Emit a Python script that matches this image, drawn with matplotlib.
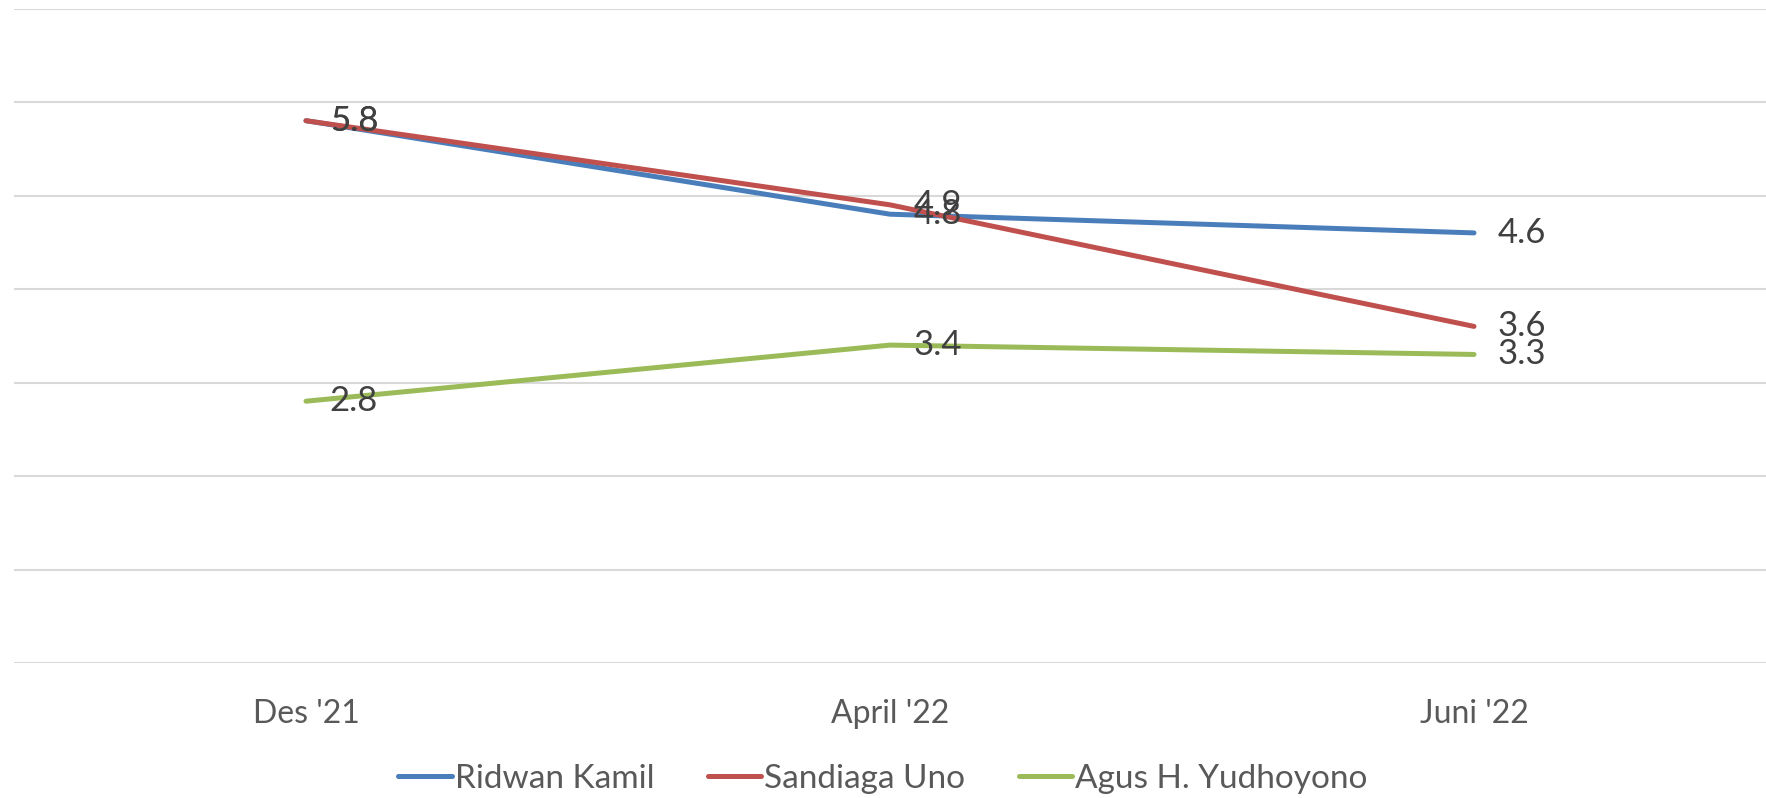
import matplotlib.pyplot as plt
import numpy as np

periods = ["Des '21", "April '22", "Juni '22"]
ridwan = [5.8, 4.8, 4.6]
sandiaga = [5.8, 4.9, 3.6]
agus = [2.8, 3.4, 3.3]
names = ["Ridwan Kamil", "Sandiaga Uno", "Agus H. Yudhoyono"]
colors = ["#4A7EBB", "#C0504D", "#9BBB59"]

plt.rcParams['font.family'] = ['Lato', 'DejaVu Sans']

fig = plt.figure(figsize=(17.66, 7.98), dpi=100)
ax = fig.add_axes([14 / 1766, 1 - 663 / 798, 1 - 14 / 1766, (663 - 8.5) / 798])

x = np.arange(len(periods))
for vals, name, c in zip([ridwan, sandiaga, agus], names, colors):
    ax.plot(x, vals, color=c, lw=3.6, solid_capstyle='round', label=name)
    for xi, v in zip(x, vals):
        ax.annotate(f"{v:.1f}", (xi, v), xytext=(17, 0), textcoords='offset points',
                    ha='left', va='center', fontsize=25, color='#404040')

ax.set_xlim(-0.5, 2.5)
ax.set_ylim(0, 7)
ax.set_yticks(np.arange(0, 8))
ax.yaxis.grid(True, color='#D9D9D9', lw=1.5)
ax.set_axisbelow(True)
ax.tick_params(axis='y', left=False, labelleft=False)
ax.tick_params(axis='x', length=0, pad=26, labelsize=23, labelcolor='#595959')
ax.set_xticks(x, periods)
for s in ax.spines.values():
    s.set_visible(False)

fig.legend(loc='center', bbox_to_anchor=(0.5, 1 - 779 / 798), ncol=3, frameon=False,
           fontsize=24, labelcolor='#595959', handlelength=1.6, handletextpad=0.1,
           columnspacing=1.6)

fig.savefig('out.png', dpi=100)
